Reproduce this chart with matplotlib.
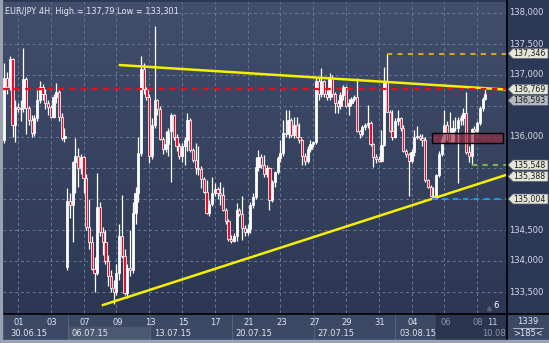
import matplotlib
matplotlib.use('Agg')
import matplotlib.pyplot as plt
import numpy as np
from matplotlib.patches import Rectangle, Polygon
from matplotlib.colors import LinearSegmentedColormap
from matplotlib.transforms import blended_transform_factory

plt.rcParams['font.family'] = ['DejaVu Sans']

# EUR/JPY 4H candles, 30.06.15 - 07.08.15
opens = [135.95, 136.95, 136.80, 137.25, 136.20, 136.48, 136.45, 136.47, 136.93, 136.47,
         136.27, 136.06, 136.30, 136.60, 136.80, 136.70, 136.55, 136.48, 136.33, 136.65,
         136.72, 136.32, 135.99, 133.90, 134.97, 134.90, 135.60, 135.70, 135.50, 135.68,
         135.34, 134.55, 134.30, 133.87, 133.80, 134.87, 134.47, 134.30, 134.00, 133.75,
         133.57, 133.50, 133.80, 134.40, 134.08, 133.48, 133.88, 133.85, 134.77, 135.10,
         135.74, 137.10, 136.77, 136.65, 135.70, 136.20, 136.60, 136.45, 135.97, 135.80,
         135.88, 136.10, 136.35, 136.00, 135.85, 135.70, 135.85, 135.95, 136.27, 135.79,
         135.63, 135.50, 135.48, 135.33, 135.12, 134.77, 134.92, 135.10, 135.16, 135.10,
         135.06, 134.82, 134.64, 134.36, 134.32, 134.40, 134.82, 134.75, 134.53, 134.47,
         134.52, 134.90, 135.03, 135.52, 135.68, 135.55, 135.40, 135.50, 134.98, 135.28,
         135.44, 135.66, 135.74, 136.06, 136.04, 136.27, 136.03, 136.20, 136.00, 135.95,
         135.70, 135.62, 135.80, 135.88, 135.92, 136.90, 136.70, 136.90, 136.70, 136.65,
         136.95, 136.70, 136.55, 136.50, 136.68, 136.81, 136.50, 136.55, 136.62, 136.64,
         136.10, 136.05, 136.16, 136.20, 136.22, 135.88, 135.68, 135.64, 135.62, 135.87,
         136.89, 136.41, 136.10, 136.00, 136.25, 136.30, 136.14, 135.78, 135.72, 135.62,
         135.76, 136.00, 136.02, 135.98, 135.95, 135.30, 135.20, 135.05, 135.02, 135.38,
         135.72, 135.95, 136.20, 136.05, 135.93, 136.14, 136.15, 136.28, 136.30, 136.38,
         135.76, 135.70, 136.13, 136.10, 136.22, 136.46, 136.62]
highs = [137.20, 137.05, 137.30, 137.28, 136.60, 136.55, 136.60, 137.44, 136.97, 136.50,
         136.35, 136.35, 136.75, 136.91, 136.85, 136.78, 136.60, 136.52, 136.70, 136.87,
         136.75, 136.38, 136.15, 135.17, 135.10, 135.62, 135.99, 135.82, 135.72, 135.70,
         135.40, 135.00, 134.40, 134.06, 135.42, 134.95, 134.55, 134.50, 134.10, 133.85,
         133.70, 133.95, 134.60, 135.06, 134.20, 133.95, 134.50, 134.95, 135.20, 136.00,
         137.30, 137.20, 136.80, 136.70, 136.30, 137.79, 136.62, 136.50, 136.00, 136.10,
         136.15, 136.38, 136.37, 136.05, 135.90, 135.90, 136.00, 136.38, 136.30, 135.82,
         135.90, 135.85, 135.53, 135.35, 135.31, 134.99, 135.36, 135.25, 135.20, 135.28,
         135.20, 134.86, 134.68, 134.42, 134.45, 134.93, 134.86, 135.04, 134.58, 134.60,
         134.95, 135.10, 135.68, 135.79, 135.72, 135.71, 135.55, 135.52, 135.30, 135.45,
         135.70, 135.95, 136.27, 136.44, 136.44, 136.30, 136.33, 136.33, 136.22, 135.97,
         135.74, 135.85, 135.95, 135.94, 136.97, 136.95, 137.11, 136.92, 136.75, 137.03,
         137.00, 136.72, 136.60, 136.72, 136.84, 136.83, 136.62, 136.65, 136.68, 136.95,
         136.12, 136.20, 136.22, 136.52, 136.25, 135.90, 135.72, 135.70, 136.11, 137.13,
         137.346, 136.43, 136.43, 136.30, 136.44, 136.32, 136.20, 135.80, 135.74, 135.80,
         136.11, 136.17, 136.05, 136.04, 136.00, 135.33, 135.22, 135.20, 135.40, 135.78,
         136.00, 136.44, 136.25, 136.41, 136.28, 136.33, 136.32, 136.36, 136.46, 136.73,
         135.85, 136.15, 136.17, 136.25, 136.50, 136.65, 136.79]
lows = [135.90, 136.70, 136.75, 136.00, 135.92, 136.40, 136.25, 136.40, 136.05, 136.20,
        136.00, 136.02, 136.25, 136.55, 136.60, 136.45, 136.35, 136.30, 136.30, 136.55,
        136.25, 135.95, 135.92, 133.85, 134.70, 134.30, 135.10, 135.20, 135.40, 135.10,
        134.50, 134.20, 133.85, 133.50, 133.78, 134.40, 134.10, 133.95, 133.60, 133.50,
        133.301, 133.45, 133.70, 134.05, 133.45, 133.40, 133.75, 133.80, 134.60, 134.95,
        135.70, 136.70, 136.60, 135.58, 135.65, 136.15, 136.35, 135.95, 135.72, 135.75,
        135.70, 135.28, 135.95, 135.78, 135.65, 135.60, 135.55, 135.78, 135.75, 135.60,
        135.40, 135.38, 135.17, 135.10, 134.75, 134.72, 134.88, 135.05, 135.00, 134.90,
        134.80, 134.60, 134.33, 134.29, 134.30, 134.33, 134.72, 134.34, 134.40, 134.42,
        134.45, 134.85, 135.00, 135.45, 135.50, 135.35, 135.35, 134.82, 134.95, 135.20,
        135.40, 135.60, 135.70, 136.00, 135.98, 136.00, 135.98, 135.98, 135.90, 135.55,
        135.55, 135.58, 135.76, 135.84, 135.88, 136.60, 136.65, 136.65, 136.60, 136.60,
        136.65, 136.38, 136.38, 136.45, 136.60, 136.48, 136.35, 136.50, 136.58, 136.08,
        135.98, 136.02, 136.12, 136.15, 135.86, 135.52, 135.58, 135.60, 135.60, 135.85,
        136.40, 136.08, 135.95, 135.98, 136.20, 136.10, 135.76, 135.68, 135.04, 135.58,
        135.70, 135.97, 135.95, 135.85, 135.28, 135.17, 135.04, 135.004, 135.00, 135.35,
        135.70, 135.90, 135.95, 135.90, 135.90, 136.10, 135.25, 136.20, 136.20, 135.73,
        135.60, 135.55, 136.05, 136.05, 136.20, 136.42, 136.60]
closes = opens[1:23] + [136.02] + opens[24:] + [136.70]

grid_levels = [138.0, 137.5, 137.0, 136.5, 136.0, 135.5, 135.0, 134.5, 134.0, 133.5]
scale_labels = [138.0, 137.5, 137.0, 136.0, 134.5, 134.0, 133.5]
day_labels = ['01', '03', '07', '09', '13', '15', '17', '21', '23', '27', '29', '31', '04', '06', '08']
week_labels = ['30.06.15', '06.07.15', '13.07.15', '20.07.15', '27.07.15', '03.08.15']
week_starts = [-2, 23, 53, 83, 113, 143]

upper_trend = ([42.3, 183.6], [137.16, 136.765])
lower_trend = ([36.1, 183.6], [133.29, 135.388])
red_level = 136.769
orange_level = (140, 137.346)
blue_level = (156.5, 135.004)
green_level = (171, 135.548)
zone = (156.5, 182.5, 135.903, 136.065)
tags = [137.346, 136.769, 136.593, 135.548, 135.388, 135.004]
tag_pix = [53.5, 89.3, 100.5, 165.0, 176.5, 199.0]

W, H = 549, 343
fig = plt.figure(figsize=(W / 100, H / 100), dpi=100)
bg = fig.add_axes([0, 0, 1, 1])
bg.set_xlim(0, W)
bg.set_ylim(H, 0)
bg.axis('off')
bg.add_patch(Rectangle((0, 0), W, H, color='#2c3956', zorder=0))

# date bar and corner box
bg.add_patch(Rectangle((0, 314), 506, 26, color='#3c4965', zorder=1))
bg.add_patch(Rectangle((68, 327), 81, 13, color='#4b5872', zorder=1))
bg.add_patch(Rectangle((507, 314), 42, 26, color='#3c4965', zorder=1))
for xs in [68, 149.5, 232, 313.5, 395]:
    bg.plot([xs, xs], [314, 340], color='#56627c', lw=0.8, zorder=2)
bg.add_patch(Rectangle((436, 314), 70, 26, color='#24304a', alpha=0.75, zorder=3))
bg.plot([0, W], [313.5, 313.5], color='black', lw=1.2, zorder=4)
bg.plot([506.5, 506.5], [0, H], color='black', lw=1.2, zorder=4)
bg.add_patch(Rectangle((0, 340), W, 3, color='#9aa2b2', zorder=5))
bg.add_patch(Rectangle((0, 0), 2, H, color='#9aa2b2', zorder=5))

ax = fig.add_axes([3 / W, 30 / H, 503 / W, 311 / H], zorder=2)
x0, x1 = -0.487, 183.56
y0, y1 = 133.161, 138.177
ax.set_xlim(x0, x1)
ax.set_ylim(y0, y1)
ax.axis('off')
cmap = LinearSegmentedColormap.from_list('bgc', ['#414e6c', '#2c3853'])
ax.imshow(np.linspace(0, 1, 256).reshape(-1, 1), extent=[x0, x1, y0, y1],
          aspect='auto', cmap=cmap, zorder=0)

for k in range(len(day_labels)):
    ax.axvline(5 + 12 * k, color='#6a7896', lw=0.7, ls=(0, (3, 3)), zorder=1)
for p in grid_levels:
    ax.axhline(p, color='#6a7896', lw=0.7, ls=(0, (3, 3)), zorder=1)

idx = np.arange(len(closes))
o = np.array(opens)
c = np.array(closes)
ax.vlines(idx, lows, highs, color='white', lw=0.9, zorder=3)
body_col = ['#e0102e' if cc < oo else 'white' for oo, cc in zip(o, c)]
ax.bar(idx, np.maximum(np.abs(c - o), 0.012), bottom=np.minimum(o, c), width=0.8,
       color=body_col, edgecolor='white', linewidth=0.55, zorder=4)

ax.plot(upper_trend[0], upper_trend[1], color='#f4f000', lw=1.8, zorder=5)
ax.plot(lower_trend[0], lower_trend[1], color='#f4f000', lw=1.8, zorder=5)
ax.plot([x0, x1], [red_level, red_level], color='#e8101a', lw=1.6, ls=(0, (2.5, 2.5)), zorder=5)
ax.plot([orange_level[0], x1], [orange_level[1]] * 2, color='#d8a21c', lw=1.5, ls=(0, (2.5, 2.5)), zorder=5)
ax.plot([blue_level[0], x1], [blue_level[1]] * 2, color='#14a0e0', lw=1.5, ls=(0, (2.5, 2.5)), zorder=5)
ax.plot([green_level[0], x1], [green_level[1]] * 2, color='#7ab648', lw=1.5, ls=(0, (2.5, 2.5)), zorder=5)
ax.add_patch(Rectangle((zone[0], zone[2]), zone[1] - zone[0], zone[3] - zone[2],
                       facecolor='#9a2a40', alpha=0.65, edgecolor='none', zorder=6))
ax.add_patch(Rectangle((zone[0], zone[2]), zone[1] - zone[0], zone[3] - zone[2],
                       facecolor='none', edgecolor='black', lw=1.0, zorder=6))

ax.text(0.004, 0.985, 'EUR/JPY 4H  High = 137,79 Low = 133,301', transform=ax.transAxes,
        ha='left', va='top', color='#e6eaf2', fontsize=5.9, zorder=7)
ax.text(180.0, 133.21, '6', color='white', fontsize=6, ha='center', va='bottom', zorder=7)
ax.plot([177.4], [133.24], marker='^', color='#55607a', ms=3, zorder=7)


# price scale
def pix(p):
    return 13 + (138.0 - p) * 62.0


for p in scale_labels:
    bg.text(509, pix(p), ('%.3f' % p).replace('.', ','), color='#d6dcea', fontsize=6,
            ha='left', va='center', zorder=6)
for val, yp in zip(tags, tag_pix):
    fc = '#b6bac4' if val == 136.593 else '#e4e6da'
    bg.add_patch(Polygon([(508, yp), (513, yp - 5), (548, yp - 5), (548, yp + 5), (513, yp + 5)],
                         closed=True, facecolor=fc, edgecolor='#5a6070', lw=0.5, zorder=8))
    bg.text(513.5, yp + 0.3, ('%.3f' % val).replace('.', ','), color='#1a1a1a', fontsize=5.7,
            ha='left', va='center', zorder=9)

# time scale
tr = blended_transform_factory(ax.transData, bg.transData)
for k, lab in enumerate(day_labels):
    col = '#8c96aa' if k >= 13 else '#e2e8f2'
    ax.text(5 + 12 * k + 0.4, 322.5, lab, transform=tr, color=col, fontsize=6,
            ha='center', va='center', zorder=7, clip_on=False)
ax.text(178.7, 322.5, '11', transform=tr, color='#c8d0de', fontsize=6, ha='center',
        va='center', zorder=7, clip_on=False)
for s, lab in zip(week_starts, week_labels):
    ax.text(max(s + 1.7, 2.1), 333.5, lab, transform=tr, color='#e2e8f2', fontsize=6,
            ha='left', va='center', zorder=7, clip_on=False)
ax.text(183.4, 333.5, '10.08', transform=tr, color='#8c96aa', fontsize=6,
        ha='right', va='center', zorder=7, clip_on=False)

bg.text(528, 321.5, '1339', color='#e2e8f2', fontsize=6, ha='center', va='center', zorder=6)
bg.plot([513, 543], [327.5, 327.5], color='#c0c8d8', lw=0.6, zorder=6)
bg.text(528, 333.5, '>185<', color='#e2e8f2', fontsize=6, ha='center', va='center', zorder=6)

fig.savefig('out.png', dpi=100)
